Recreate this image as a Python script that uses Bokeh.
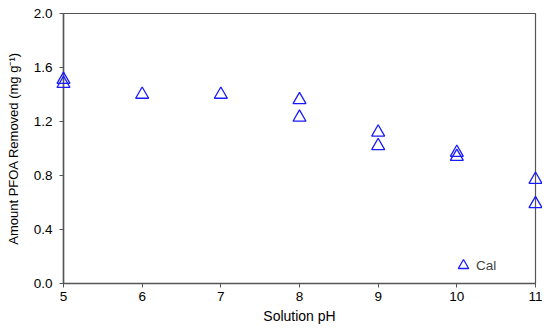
from bokeh.plotting import figure
from bokeh.models import Range1d, FixedTicker, Legend, LegendItem, NumeralTickFormatter
from bokeh.embed import file_html
from bokeh.resources import INLINE

ph = [5, 5, 6, 7, 8, 8, 9, 9, 10, 10, 11, 11]
removed = [1.51, 1.48, 1.40, 1.40, 1.36, 1.23, 1.12, 1.02, 0.97, 0.94, 0.77, 0.59]
x_ticks = [5, 6, 7, 8, 9, 10, 11]
y_ticks = [0.0, 0.4, 0.8, 1.2, 1.6, 2.0]

p = figure(width=542, height=327, output_backend="svg", toolbar_location=None,
           x_range=Range1d(5, 11), y_range=Range1d(0, 2.0),
           min_border_left=63, min_border_right=7, min_border_top=13, min_border_bottom=44)
p.grid.visible = False
p.outline_line_color = "#555555"
p.outline_line_width = 1.2

r = p.scatter(ph, removed, marker="triangle", size=13, fill_color=None,
              line_color="#1a1aff", line_width=1.3, level="overlay")

for ax in (p.xaxis[0], p.yaxis[0]):
    ax.axis_line_color = "#555555"
    ax.axis_line_width = 1.5
    ax.major_tick_line_color = "#555555"
    ax.major_tick_in = 0
    ax.major_tick_out = 4
    ax.minor_tick_line_color = None
    ax.major_label_text_font = "Liberation Sans"
    ax.major_label_text_font_size = "13.5px"
    ax.major_label_text_color = "black"
    ax.axis_label_text_font = "Liberation Sans"
    ax.axis_label_text_font_style = "normal"
    ax.axis_label_text_color = "black"

p.xaxis.axis_label_text_font_size = "14px"
p.yaxis.axis_label_text_font_size = "13px"
p.xaxis.ticker = FixedTicker(ticks=x_ticks)
p.yaxis.ticker = FixedTicker(ticks=y_ticks)
p.yaxis.formatter = NumeralTickFormatter(format="0.0")
p.xaxis.axis_label = "Solution pH"
p.yaxis.axis_label = "Amount PFOA Removed (mg g\u207b\u00b9)"
p.xaxis.axis_label_standoff = 4
p.yaxis.axis_label_standoff = 10
p.xaxis.major_label_standoff = 4
p.yaxis.major_label_standoff = 7

legend = Legend(items=[LegendItem(label="Cal", renderers=[r])],
                border_line_color=None, background_fill_alpha=0,
                label_text_font="Liberation Sans", label_text_font_size="13.5px",
                glyph_width=26, glyph_height=28, padding=0, label_standoff=0)
legend.margin = 0
legend.location = (387, 4)
p.add_layout(legend)

open("out.html", "w").write(file_html(p, INLINE))
